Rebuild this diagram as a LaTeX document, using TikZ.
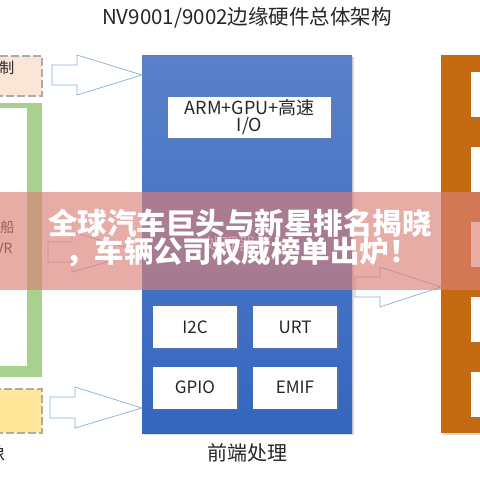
\documentclass[tikz,border=0pt]{standalone}
\usepackage{fontspec}
\setmainfont{Noto Sans CJK SC}
\usetikzlibrary{shadows}
\definecolor{peach}{HTML}{FBE5D6}
\definecolor{butter}{HTML}{FFE699}
\definecolor{leaf}{HTML}{A9D18E}
\definecolor{rust}{HTML}{C46A12}
\definecolor{bluetop}{HTML}{5A81CA}
\definecolor{bluebot}{HTML}{3466BF}
\definecolor{arrowline}{HTML}{8AAFD8}
\definecolor{bannercol}{HTML}{DC8078}
\definecolor{ink}{HTML}{262626}
\tikzset{
  px/.style={font=\fontsize{#1}{#1}\selectfont},
  shad/.style={drop shadow={shadow xshift=1.5pt,shadow yshift=-1.5pt,opacity=0.3}},
  dashbox/.style={draw=gray!65,line width=2pt,dash pattern=on 8pt off 3pt,inner sep=0pt},
  whitebox/.style={fill=white,shad,inner sep=0pt,text=ink,align=center},
  bluebox/.style={top color=bluetop,bottom color=bluebot,shad,inner sep=0pt},
  blockarrow/.style={draw=arrowline,line width=0.7pt,fill=white,line join=miter},
  bannertext/.style={text=white,font=\fontsize{29.5}{33}\selectfont\bfseries}
}
\begin{document}
\begin{tikzpicture}[x=1pt,y=-1pt]
\useasboundingbox (0,0) rectangle (480,480);
\clip (0,0) rectangle (480,480);
\fill[white] (0,0) rectangle (480,480);

% title
\node[px=20.5,text=ink] (title) at (247,18) {NV9001/9002边缘硬件总体架构};

% left column
\node[dashbox,fill=peach,minimum width=80,minimum height=40,anchor=north east] (ctrl) at (43,55) {};
\node[px=15,text=ink,anchor=east] (ctrltxt) at (18,68) {控制};

\node[fill=leaf,inner sep=0pt,minimum width=70,minimum height=274,anchor=north east] (grn) at (42,103) {};
\node[fill=white,inner sep=0pt,minimum width=60,minimum height=258,anchor=north east] (grnin) at (27,108) {};
\node[px=14,text=ink,anchor=east] (boat) at (18,227) {船};
\node[px=14,text=ink,anchor=east] (vr) at (16,248) {VR};

\node[dashbox,fill=butter,minimum width=80,minimum height=44,anchor=north east] (img) at (43,388) {};
\node[px=19,text=ink,anchor=east] (imgcap) at (9,453) {像};

% central block
\node[bluebox,minimum width=210,minimum height=378,anchor=north west] (cpu) at (142,55) {};
\node[whitebox,px=18,minimum width=163,minimum height=41] (arm) at (249.5,117.5) {ARM+GPU+高速\\[-1pt]I/O};
\node[px=17,text=white!85!bluetop] (plat) at (247,244) {处理器平台};
\node[whitebox,px=17,minimum width=84,minimum height=42] (i2c) at (195,327) {I2C};
\node[whitebox,px=17,minimum width=84,minimum height=42] (urt) at (295,327) {URT};
\node[whitebox,px=17,minimum width=84,minimum height=42] (gpio) at (195,387.5) {GPIO};
\node[whitebox,px=17,minimum width=84,minimum height=42] (emif) at (295,387.5) {EMIF};
\node[px=20,text=ink] (cpucap) at (247,453) {前端处理};

% right column
\node[fill=rust,shad,inner sep=0pt,minimum width=60,minimum height=378,anchor=north west] (out) at (441,55) {};
\foreach \k in {0,...,4}{
  \node[whitebox,minimum width=40,minimum height=45,anchor=north west] (o\k) at (471,72+75*\k) {};
}
\node[px=19,text=ink,anchor=west] (outcap) at (476,453) {前};

% block arrows
\draw[blockarrow] (52,65) -- (77,65) -- (77,55) -- (cpu.west |- 0,75) -- (77,95) -- (77,85) -- (52,85) -- cycle;
\draw[blockarrow] (48,242) -- (72,242) -- (72,232) -- (cpu.west |- 0,252) -- (72,272) -- (72,262) -- (48,262) -- cycle;
\draw[blockarrow] (50,397) -- (75,397) -- (75,387) -- (cpu.west |- 0,408) -- (75,428) -- (75,418) -- (50,418) -- cycle;
\draw[blockarrow] (355,277) -- (380,277) -- (380,267) -- (out.west |- 0,287) -- (380,307) -- (380,297) -- (355,297) -- cycle;

% banner
\fill[bannercol,opacity=0.65] (0,192) rectangle (480,290);
\node[bannertext] (b1) at (240,223) {全球汽车巨头与新星排名揭晓};
\node[bannertext] (b2) at (242,252) {，车辆公司权威榜单出炉！};
\end{tikzpicture}
\end{document}
